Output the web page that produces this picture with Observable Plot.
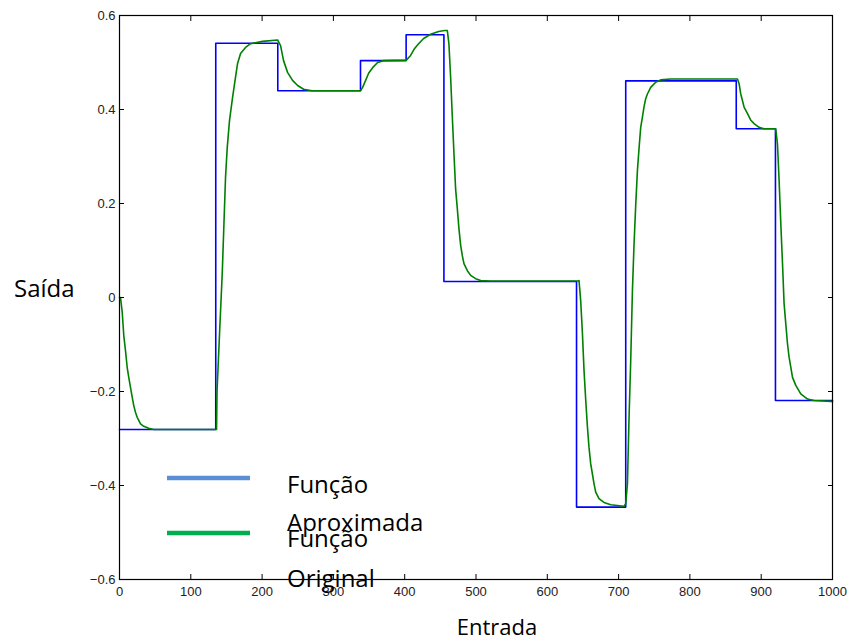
<!DOCTYPE html>
<html><head><meta charset="utf-8">
<script src="https://cdn.jsdelivr.net/npm/d3@7"></script>
<script src="https://cdn.jsdelivr.net/npm/@observablehq/plot@0.6"></script>
<style>
body{margin:0;background:#fff}
#c{position:relative;width:851px;height:641px}
</style>
</head><body><div id="c"></div>
<script>
// Tick values
const xTicks = [0,100,200,300,400,500,600,700,800,900,1000];
const yTicks = [-0.6,-0.4,-0.2,0,0.2,0.4,0.6];

// Blue step series ("Função Aproximada") – breakpoints and levels
const approxX = [0,135,222,338,402,455,641,710,865,920,1000];
const approxY = [-0.281,0.541,0.440,0.504,0.559,0.034,-0.446,0.461,0.359,-0.219,-0.219];

// Green smooth series ("Função Original")
const origX = [0,1.4,3.8,6,8.4,10.8,13,15.4,17.8,20,22.4,24.8,29.5,34,41,48,
  136.1,136.8,140.3,144.1,146.3,148.7,151.1,154.3,158.6,161.4,165.6,169.8,176.8,183.8,200.6,221.7,
  225.9,230.1,235.7,242.7,249.8,258.2,270,338.2,
  341,345.2,349.4,355,362,370.4,402.3,
  408.3,413.9,419.5,426.5,436.4,447.6,456,
  459.8,462,464.4,466.8,469.1,471.4,473.8,476.1,478.5,480.8,483.1,487.9,492.5,499.5,506.5,520,643,
  644.5,646.8,649.2,651.5,653.8,656.3,658.5,660.9,663.2,665.5,667.9,672.5,679.5,689,707.6,
  710,712.4,714.6,717,719.4,721.6,724,726.4,728.6,731,733.4,735.6,738,740.4,745,752,759,773,865,
  866.7,869,871.3,873.7,876,880.8,885.5,890,897,904,920.4,
  922.8,925,927.5,929.9,932.1,934.5,936.9,939.1,941.5,943.9,948.5,955.5,965,974.2,997.6,1000];
const origY = [0,0,-0.031,-0.081,-0.113,-0.149,-0.170,-0.191,-0.212,-0.230,-0.244,-0.255,-0.269,-0.274,-0.278,-0.281,
  -0.281,-0.199,-0.077,0.051,0.149,0.255,0.319,0.377,0.426,0.455,0.498,0.519,0.532,0.540,0.545,0.548,
  0.536,0.504,0.479,0.462,0.451,0.443,0.440,0.440,
  0.447,0.462,0.477,0.489,0.500,0.504,0.505,
  0.515,0.530,0.540,0.551,0.560,0.566,0.568,
  0.568,0.540,0.469,0.384,0.306,0.231,0.189,0.146,0.111,0.089,0.072,0.057,0.047,0.040,0.036,0.035,0.035,
  0.036,-0.006,-0.074,-0.155,-0.216,-0.276,-0.319,-0.354,-0.375,-0.396,-0.414,-0.428,-0.436,-0.441,-0.444,
  -0.439,-0.396,-0.258,-0.134,0.015,0.111,0.196,0.270,0.316,0.362,0.384,0.405,0.423,0.433,0.447,0.458,0.463,0.465,0.465,
  0.465,0.455,0.433,0.419,0.405,0.391,0.377,0.370,0.362,0.359,0.359,
  0.327,0.253,0.157,0.072,-0.013,-0.056,-0.099,-0.127,-0.148,-0.170,-0.187,-0.205,-0.216,-0.219,-0.221,-0.222];

// Labels
const xLabel = "Entrada";
const yLabel = "Saída";
const legendLines = [["Função","Aproximada"],["Função","Original"]];
const legendColors = ["#5b8fd5","#00b050"];

const approx = approxX.map((x,i)=>({x, y: approxY[i]}));
const orig = origX.map((x,i)=>({x, y: origY[i]}));

const fmt = d => d === 0 ? "0" : d3.format(".1f")(d);

const chart = Plot.plot({
  width: 851, height: 641,
  marginLeft: 119, marginRight: 19, marginTop: 15, marginBottom: 62,
  x: {domain: [0,1000]},
  y: {domain: [-0.6,0.6]},
  style: {fontFamily: "'Liberation Sans', Arial, sans-serif", fontSize: "13px", color: "#000", background: "#fff"},
  marks: [
    Plot.line(approx, {x: "x", y: "y", curve: "step-after", stroke: "#0000ff", strokeWidth: 1.6}),
    Plot.line(orig, {x: "x", y: "y", stroke: "#008000", strokeWidth: 1.6}),
    Plot.frame({stroke: "#000", strokeWidth: 1.2}),
    Plot.axisX(xTicks, {anchor: "bottom", tickSize: -5, tickPadding: 12, label: null, tickFormat: d => String(d), fill: "#222"}),
    Plot.axisX(xTicks, {anchor: "top", tickSize: -5, tickFormat: () => "", label: null}),
    Plot.axisY(yTicks, {anchor: "left", tickSize: -5, tickPadding: 9, label: null, tickFormat: fmt, fill: "#222"}),
    Plot.axisY(yTicks, {anchor: "right", tickSize: -5, tickFormat: () => "", label: null})
  ]
});
document.getElementById("c").appendChild(chart);

const svg = d3.select(chart);
const tfont = "'Open Sans', sans-serif";
const addText = (x, y, t, anchor, size) => svg.append("text")
  .attr("x", x).attr("y", y)
  .attr("text-anchor", anchor).attr("dominant-baseline", "central")
  .attr("font-family", tfont).attr("font-size", size).attr("fill", "#000").text(t);

addText(14, 287, yLabel, "start", 24);
addText(497, 626, xLabel, "middle", 22);

const legY = [478, 533];
const textY = [[483, 521], [537, 577]];
legendLines.forEach((lines, i) => {
  svg.append("line").attr("x1", 167).attr("x2", 250).attr("y1", legY[i]).attr("y2", legY[i])
    .attr("stroke", legendColors[i]).attr("stroke-width", 4.5);
  lines.forEach((t, j) => addText(287, textY[i][j], t, "start", 24));
});
</script>
</body></html>
